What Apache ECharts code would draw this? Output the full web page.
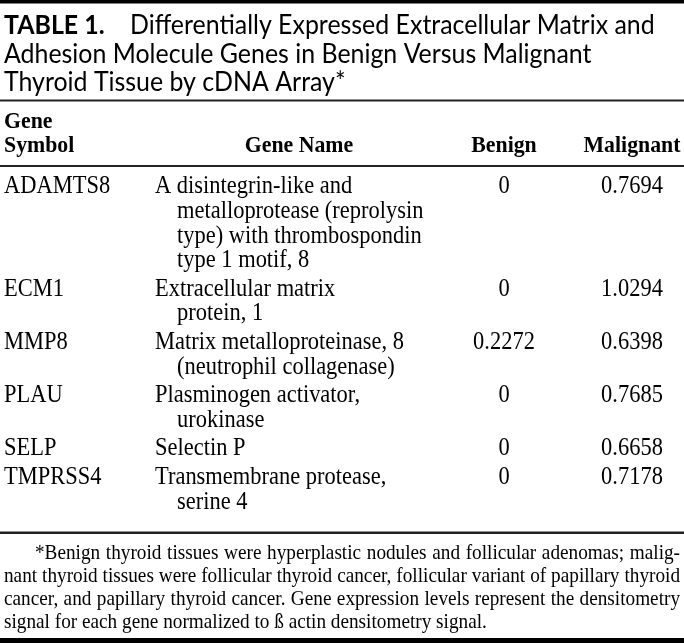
<!DOCTYPE html>
<html><head><meta charset="utf-8">
<script src="https://cdn.jsdelivr.net/npm/echarts@6/dist/echarts.min.js"></script>
<style>html,body{margin:0;padding:0;background:#fff}#c{width:684px;height:643px}</style>
</head><body><div id="c"></div>
<script>
// ---------- data ----------
const titleLabel = 'TABLE 1.';
const titleLines = [
  'Differentially Expressed Extracellular Matrix and',
  'Adhesion Molecule Genes in Benign Versus Malignant',
  'Thyroid Tissue by cDNA Array*'
];
const headerSymbol = ['Gene', 'Symbol'];
const headerName = 'Gene Name';
const headerBenign = 'Benign';
const headerMalignant = 'Malignant';
const symbols = ['ADAMTS8', 'ECM1', 'MMP8', 'PLAU', 'SELP', 'TMPRSS4'];
const geneNames = [
  ['A disintegrin-like and', 'metalloprotease (reprolysin', 'type) with thrombospondin', 'type 1 motif, 8'],
  ['Extracellular matrix', 'protein, 1'],
  ['Matrix metalloproteinase, 8', '(neutrophil collagenase)'],
  ['Plasminogen activator,', 'urokinase'],
  ['Selectin P'],
  ['Transmembrane protease,', 'serine 4']
];
const benign = [0, 0, 0.2272, 0, 0, 0];
const malignant = [0.7694, 1.0294, 0.6398, 0.7685, 0.6658, 0.7178];
const footnoteLines = [
  '*Benign thyroid tissues were hyperplastic nodules and follicular adenomas; malig-',
  'nant thyroid tissues were follicular thyroid cancer, follicular variant of papillary thyroid',
  'cancer, and papillary thyroid cancer. Gene expression levels represent the densitometry',
  'signal for each gene normalized to \u00DF actin densitometry signal.'
];

// ---------- layout / style ----------
const SERIF = '"Liberation Serif", "Times New Roman", serif';
const SANS = 'Lato, "Open Sans", sans-serif';
const ctx = document.createElement('canvas').getContext('2d');
function tw(t, size, fam, weight) { ctx.font = (weight || 'normal') + ' ' + size + 'px ' + fam; return ctx.measureText(t).width; }

const bodyFS = 20 * 249 / tw('Matrix metalloproteinase, 8', 20, SERIF);
const headFS = 20 * 97 / tw('Malignant', 20, SERIF, 'bold');
const noteFS = 20 * 483 / tw(footnoteLines[3], 20, SERIF);
const titleFS = 20 * 525 / tw(titleLines[0], 20, SANS);
const STRETCH = 1.1;

const COL_SYM = 4, COL_NAME = 155, COL_NAME_IND = 177, COL_BEN = 504, COL_MAL = 632;
const BODY_Y0 = 187, LINE_H = 24.6, ROW_GAP = 4;
const fmt = v => v === 0 ? '0' : v.toFixed(4);

function txt(x, y, text, size, fam, weight, align) {
  return { type: 'text', x: x, y: y, scaleY: STRETCH, silent: true,
    style: { text: text, fontSize: size, fontFamily: fam, fontWeight: weight || 'normal',
      fill: '#000', align: align || 'left', verticalAlign: 'middle' } };
}
function rule(y, h, color) {
  return { type: 'rect', shape: { x: 0, y: y, width: 684, height: h }, style: { fill: color }, silent: true };
}

const graphics = [];
graphics.push(rule(0, 3.5, '#000'));
graphics.push(rule(99.5, 2, '#222'));
graphics.push(rule(165, 2, '#222'));
graphics.push(rule(531.5, 2.5, '#222'));
graphics.push(rule(638, 5, '#000'));

// title
const titleY = [25, 54, 82.5];
graphics.push(txt(4, titleY[0], titleLabel, titleFS, SANS, 'bold'));
graphics.push(txt(130, titleY[0], titleLines[0], titleFS, SANS));
graphics.push(txt(4, titleY[1], titleLines[1], titleFS, SANS));
graphics.push(txt(4, titleY[2], titleLines[2], titleFS, SANS));

// header
graphics.push(txt(COL_SYM, 121.5, headerSymbol[0], headFS, SERIF, 'bold'));
graphics.push(txt(COL_SYM, 146, headerSymbol[1], headFS, SERIF, 'bold'));
graphics.push(txt(299, 146, headerName, headFS, SERIF, 'bold', 'center'));
graphics.push(txt(COL_BEN, 146, headerBenign, headFS, SERIF, 'bold', 'center'));
graphics.push(txt(COL_MAL, 146, headerMalignant, headFS, SERIF, 'bold', 'center'));

// footnote, justified
const noteY = [553, 576, 599, 622];
footnoteLines.forEach((line, li) => {
  const x0 = li === 0 ? 35 : 4;
  const right = 680;
  const words = line.split(' ');
  const last = li === footnoteLines.length - 1;
  const widths = words.map(w => tw(w, noteFS, SERIF));
  const sum = widths.reduce((a, b) => a + b, 0);
  const space = last ? tw(' ', noteFS, SERIF) : (right - x0 - sum) / (words.length - 1);
  let x = x0;
  words.forEach((w, k) => {
    graphics.push(txt(x, noteY[li], w, noteFS, SERIF));
    x += widths[k] + space;
  });
});

const chart = echarts.init(document.getElementById('c'), null, { renderer: 'canvas' });
chart.setOption({
  animation: false,
  backgroundColor: '#fff',
  grid: { left: 0, right: 0, top: 0, bottom: 0 },
  xAxis: { type: 'value', min: 0, max: 684, show: false },
  yAxis: { type: 'value', min: 0, max: 643, inverse: true, show: false },
  graphic: graphics,
  series: [{
    type: 'custom',
    data: symbols.map((s, i) => [i]),
    renderItem: function (params, api) {
      const i = api.value(0);
      let startLine = 0;
      for (let j = 0; j < i; j++) startLine += geneNames[j].length;
      const yv = BODY_Y0 + startLine * LINE_H + i * ROW_GAP;
      const children = [];
      const p0 = api.coord([COL_SYM, yv]);
      children.push(txt(p0[0], p0[1], symbols[i], bodyFS, SERIF));
      geneNames[i].forEach((ln, k) => {
        const p = api.coord([k === 0 ? COL_NAME : COL_NAME_IND, yv + k * LINE_H]);
        children.push(txt(p[0], p[1], ln, bodyFS, SERIF));
      });
      const pb = api.coord([COL_BEN, yv]);
      children.push(txt(pb[0], pb[1], fmt(benign[i]), bodyFS, SERIF, 'normal', 'center'));
      const pm = api.coord([COL_MAL, yv]);
      children.push(txt(pm[0], pm[1], fmt(malignant[i]), bodyFS, SERIF, 'normal', 'center'));
      return { type: 'group', children: children };
    }
  }]
});
</script>
</body></html>
